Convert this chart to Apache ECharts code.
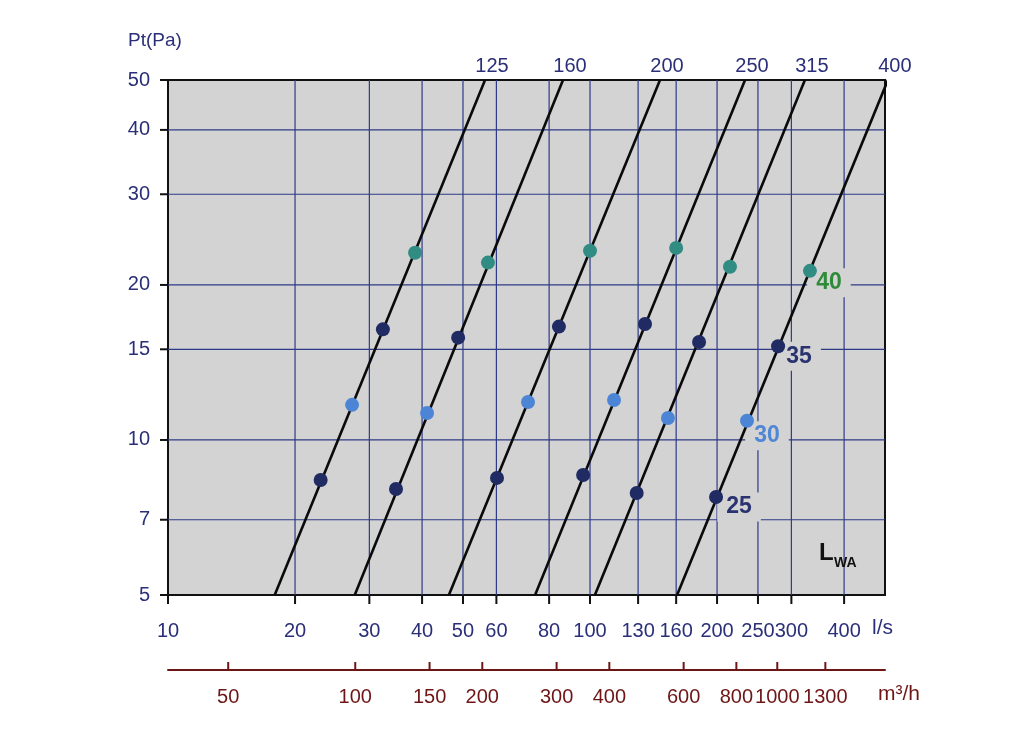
<!DOCTYPE html>
<html><head><meta charset="utf-8">
<script src="https://cdn.jsdelivr.net/npm/echarts@6/dist/echarts.min.js"></script>
<style>html,body{margin:0;padding:0;background:#fff}#c{width:1024px;height:755px}</style>
</head><body><div id="c"></div>
<script>
// ---- data ----
const flowTicks = [10, 20, 30, 40, 50, 60, 80, 100, 130, 160, 200, 250, 300, 400];   // l/s
const pressureTicks = [5, 7, 10, 15, 20, 30, 40, 50];                              // Pa
const m3hTicks = [50, 100, 150, 200, 300, 400, 600, 800, 1000, 1300];               // m3/h
const ductSizes = ['125', '160', '200', '250', '315', '400'];
const ductFlowAt5Pa = [17.9, 27.7, 46.3, 74.1, 102.7, 160.8];
const ductFlowAt50Pa = [56.4, 86.3, 146.5, 233, 323, 508];
const lwaLevels = ['40', '35', '30', '25'];
const lwa40 = [[38.5, 23.1], [57.3, 22.1], [100, 23.3], [160, 23.6], [214.6, 21.7], [332, 21.3]];
const lwa35 = [[32.3, 16.4], [48.7, 15.8], [84.4, 16.6], [135, 16.8], [181.3, 15.5], [279, 15.2]];
const lwa30 = [[27.3, 11.7], [41.1, 11.28], [71.3, 11.85], [114, 11.96], [153, 11.03], [235.5, 10.9]];
const lwa25 = [[23.0, 8.36], [34.7, 8.03], [60.2, 8.44], [96.3, 8.55], [129, 7.89], [198.9, 7.75]];

// ---- styles ----
const NAVY_TXT = '#2a2f78';
const GRIDLINE = '#2e3a86';
const RED = '#6e1616';
const FONT = '"Liberation Sans", Arial, sans-serif';
const lwaSeries = [lwa40, lwa35, lwa30, lwa25];
const dotColors = ['#318c83', '#1f2b62', '#4d85d6', '#1f2b62'];
const lvlColors = ['#2e8b3a', '#2a3370', '#4f86d6', '#2a3370'];
const lvlOffsets = [[19, 12], [21, 10], [20, 15], [23, 10]];

const chart = echarts.init(document.getElementById('c'), null, {renderer: 'canvas'});

function xGridItem(params, api) {
  const v = api.value(0);
  const pb = api.coord([v, 5]);
  const pt = api.coord([v, 50]);
  const x = pb[0], yb = pb[1], yt = pt[1];
  const ch = [];
  if (params.dataIndex !== 0) ch.push({type: 'line', shape: {x1: x, y1: yb, x2: x, y2: yt}, style: {stroke: GRIDLINE, lineWidth: 1.2}});
  ch.push({type: 'line', shape: {x1: x, y1: yb, x2: x, y2: yb + 9}, style: {stroke: '#111', lineWidth: 2}});
  ch.push({type: 'text', style: {text: String(v), x: x, y: yb + 36, align: 'center', verticalAlign: 'middle', fontSize: 20, fontFamily: FONT, fill: NAVY_TXT}});
  return {type: 'group', children: ch};
}
function yGridItem(params, api) {
  const v = api.value(1);
  const pl = api.coord([10, v]);
  const pr = api.coord([500, v]);
  const y = pl[1], xl = pl[0], xr = pr[0];
  const ch = [];
  if (params.dataIndex !== 0 && params.dataIndex !== pressureTicks.length - 1)
    ch.push({type: 'line', shape: {x1: xl, y1: y, x2: xr, y2: y}, style: {stroke: GRIDLINE, lineWidth: 1.2}});
  ch.push({type: 'line', shape: {x1: xl - 8, y1: y, x2: xl, y2: y}, style: {stroke: '#111', lineWidth: 2}});
  ch.push({type: 'text', style: {text: String(v), x: xl - 18, y: y, align: 'right', verticalAlign: 'middle', fontSize: 20, fontFamily: FONT, fill: NAVY_TXT}});
  return {type: 'group', children: ch};
}
function m3hItem(params, api) {
  const v = api.value(0);
  const p = api.coord([v, 5]);
  const x = p[0], y = p[1] + 75;
  return {type: 'group', children: [
    {type: 'line', shape: {x1: x, y1: y - 8, x2: x, y2: y}, style: {stroke: RED, lineWidth: 2}},
    {type: 'text', style: {text: String(v), x: x, y: y + 27, align: 'center', verticalAlign: 'middle', fontSize: 20, fontFamily: FONT, fill: RED}}
  ]};
}
function ductLabelItem(params, api) {
  const p = api.coord([api.value(0), 50]);
  return {type: 'text', style: {text: ductSizes[params.dataIndex], x: p[0] + 7, y: p[1] - 14, align: 'center', verticalAlign: 'middle', fontSize: 20, fontFamily: FONT, fill: NAVY_TXT}};
}
function lvlLabelItem(params, api) {
  const i = params.dataIndex;
  const p = api.coord([api.value(0), api.value(1)]);
  return {type: 'text', style: {text: lwaLevels[i], x: p[0] + lvlOffsets[i][0], y: p[1] + lvlOffsets[i][1], align: 'center', verticalAlign: 'middle', fontSize: 23, fontWeight: 'bold', fontFamily: FONT, fill: lvlColors[i], backgroundColor: '#d3d3d3', padding: [3, 9]}};
}

const series = [];
series.push({type: 'custom', name: 'xgrid', z: 1, coordinateSystem: 'cartesian2d', xAxisIndex: 0, yAxisIndex: 0, data: flowTicks.map(v => [v, 5]), renderItem: xGridItem, silent: true});
series.push({type: 'custom', name: 'ygrid', z: 1, coordinateSystem: 'cartesian2d', xAxisIndex: 0, yAxisIndex: 0, data: pressureTicks.map(v => [10, v]), renderItem: yGridItem, silent: true});
series.push({type: 'custom', name: 'm3h', z: 1, coordinateSystem: 'cartesian2d', xAxisIndex: 1, yAxisIndex: 0, data: m3hTicks.map(v => [v, 5]), renderItem: m3hItem, silent: true});
series.push({type: 'custom', name: 'lvlLabels', z: 2, coordinateSystem: 'cartesian2d', data: lwaSeries.map(s => s[s.length - 1]), renderItem: lvlLabelItem, silent: true});
ductSizes.forEach((d, i) => {
  series.push({type: 'line', name: 'Ø' + d, z: 3, clip: true, showSymbol: false, symbol: 'none', silent: true,
    data: [[ductFlowAt5Pa[i], 5], [ductFlowAt50Pa[i], 50]],
    lineStyle: {color: '#0a0a0a', width: 2.6}});
});
series.push({type: 'custom', name: 'ductLabels', z: 3, coordinateSystem: 'cartesian2d', data: ductFlowAt50Pa.map(v => [v, 50]), renderItem: ductLabelItem, silent: true});
lwaSeries.forEach((s, i) => {
  series.push({type: 'scatter', name: 'LWA ' + lwaLevels[i], z: 4, data: s, symbolSize: 14, itemStyle: {color: dotColors[i], opacity: 1}});
});

chart.setOption({
  animation: false,
  backgroundColor: '#ffffff',
  grid: {left: 168, top: 80, width: 717, height: 515, show: true, backgroundColor: '#d3d3d3', borderColor: '#111', borderWidth: 2},
  xAxis: [
    {type: 'log', logBase: 10, min: 10, max: 500, axisLine: {show: false}, axisTick: {show: false}, axisLabel: {show: false}, splitLine: {show: false}},
    {type: 'log', logBase: 10, min: 36, max: 1800, position: 'bottom', offset: 75, axisLine: {show: true, onZero: false, lineStyle: {color: RED, width: 2}}, axisTick: {show: false}, axisLabel: {show: false}, splitLine: {show: false}}
  ],
  yAxis: [{type: 'log', logBase: 10, min: 5, max: 50, axisLine: {show: false}, axisTick: {show: false}, axisLabel: {show: false}, splitLine: {show: false}}],
  graphic: [
    {type: 'text', left: 128, top: 31, style: {text: 'Pt(Pa)', fontSize: 19, fontFamily: FONT, fill: NAVY_TXT}},
    {type: 'text', left: 872, top: 618, style: {text: 'l/s', fontSize: 21, fontFamily: FONT, fill: NAVY_TXT}},
    {type: 'text', left: 878, top: 684, style: {text: 'm³/h', fontSize: 21, fontFamily: FONT, fill: RED}},
    {type: 'text', left: 819, top: 541, z: 10, style: {text: 'L', fontSize: 24, fontWeight: 'bold', fontFamily: FONT, fill: '#111'}},
    {type: 'text', left: 834, top: 556, z: 10, style: {text: 'WA', fontSize: 14, fontWeight: 'bold', fontFamily: FONT, fill: '#111'}}
  ],
  series: series
});
</script>
</body></html>
